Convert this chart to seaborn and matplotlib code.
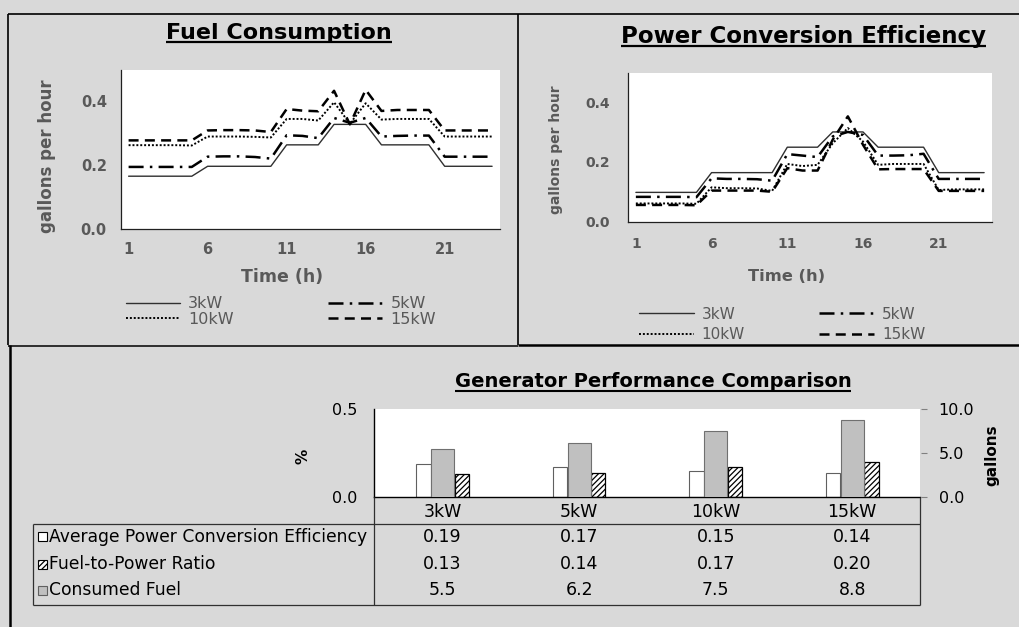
import matplotlib
matplotlib.use("Agg")
import matplotlib.pyplot as plt
import seaborn as sns
import pandas as pd
from matplotlib.lines import Line2D
from matplotlib.patches import Rectangle
from matplotlib.transforms import blended_transform_factory

# ---------------- data ----------------
hours = list(range(1, 25))
series_names = ["3kW", "5kW", "10kW", "15kW"]

fuel_3kW = [0.166, 0.166, 0.166, 0.166, 0.166, 0.197, 0.197, 0.197, 0.197, 0.197,
            0.264, 0.264, 0.264, 0.328, 0.328, 0.328, 0.264, 0.264, 0.264, 0.264,
            0.197, 0.197, 0.197, 0.197]
fuel_5kW = [0.195, 0.195, 0.195, 0.195, 0.195, 0.227, 0.228, 0.228, 0.226, 0.221,
            0.294, 0.292, 0.285, 0.348, 0.333, 0.348, 0.290, 0.292, 0.293, 0.293,
            0.227, 0.227, 0.227, 0.227]
fuel_10kW = [0.263, 0.263, 0.263, 0.263, 0.262, 0.290, 0.290, 0.290, 0.289, 0.287,
             0.345, 0.345, 0.340, 0.397, 0.330, 0.394, 0.343, 0.345, 0.345, 0.345,
             0.290, 0.290, 0.290, 0.290]
fuel_15kW = [0.278, 0.278, 0.278, 0.278, 0.278, 0.309, 0.310, 0.310, 0.309, 0.304,
             0.376, 0.371, 0.369, 0.433, 0.328, 0.436, 0.370, 0.373, 0.373, 0.373,
             0.309, 0.309, 0.309, 0.309]

eff_3kW = [0.098, 0.098, 0.098, 0.098, 0.098, 0.164, 0.164, 0.164, 0.164, 0.164,
           0.249, 0.249, 0.249, 0.300, 0.300, 0.300, 0.249, 0.249, 0.249, 0.249,
           0.164, 0.164, 0.164, 0.164]
eff_5kW = [0.083, 0.083, 0.083, 0.083, 0.082, 0.145, 0.143, 0.143, 0.142, 0.137,
           0.226, 0.221, 0.216, 0.285, 0.300, 0.290, 0.221, 0.221, 0.222, 0.227,
           0.143, 0.143, 0.143, 0.143]
eff_10kW = [0.061, 0.061, 0.061, 0.061, 0.060, 0.115, 0.112, 0.112, 0.111, 0.103,
            0.193, 0.186, 0.190, 0.262, 0.313, 0.268, 0.190, 0.193, 0.193, 0.193,
            0.106, 0.108, 0.108, 0.108]
eff_15kW = [0.056, 0.056, 0.056, 0.056, 0.055, 0.104, 0.104, 0.104, 0.104, 0.100,
            0.179, 0.171, 0.171, 0.274, 0.352, 0.257, 0.175, 0.176, 0.176, 0.176,
            0.103, 0.103, 0.103, 0.103]

hour_ticks = [1, 6, 11, 16, 21]
line_yticks = [0.0, 0.2, 0.4]

generators = ["3kW", "5kW", "10kW", "15kW"]
avg_efficiency = [0.19, 0.17, 0.15, 0.14]
fuel_to_power = [0.13, 0.14, 0.17, 0.20]
consumed_fuel = [5.5, 6.2, 7.5, 8.8]
label_eff = "Average Power Conversion Efficiency"
label_ratio = "Fuel-to-Power Ratio"
label_fuel = "Consumed Fuel"
pct_ticks = [0.0, 0.5]
gal_ticks = [0.0, 5.0, 10.0]

# ---------------- setup ----------------
W, H = 1020, 627
BG = "#d9d9d9"
GREY_TXT = "#595959"
sns.set_theme(style="white")
plt.rcParams["font.family"] = ["DejaVu Sans"]
plt.rcParams["hatch.linewidth"] = 0.9

fig = plt.figure(figsize=(W / 100, H / 100), dpi=100, facecolor=BG)


def fx(x):
    return x / W


def fy(y):
    return 1 - y / H


def axes_px(x0, y0, x1, y1):
    return fig.add_axes([fx(x0), fy(y1), (x1 - x0) / W, (y1 - y0) / H])


def fline(xs, ys, color="black", lw=1.0, z=5):
    fig.add_artist(Line2D([fx(v) for v in xs], [fy(v) for v in ys],
                          transform=fig.transFigure, color=color, lw=lw,
                          zorder=z, solid_capstyle="butt"))


styles = {
    "3kW": dict(color="#303030", linewidth=1.0, linestyle="-"),
    "5kW": dict(color="black", linewidth=1.8, linestyle=(0, (6, 2.5, 1, 2.5))),
    "10kW": dict(color="black", linewidth=1.4, linestyle=(0, (1, 1))),
    "15kW": dict(color="black", linewidth=1.8, linestyle=(0, (4, 2.5))),
}


def line_panel(ax, data, tick_size, tick_pad_x, tick_pad_y):
    ax.set_facecolor("white")
    for name in series_names:
        sns.lineplot(x=hours, y=data[name], ax=ax, errorbar=None, legend=False,
                     **styles[name])
    ax.set_xlim(0.5, 24.5)
    ax.set_ylim(0, 0.498)
    ax.set_xticks(hour_ticks, labels=[str(h) for h in hour_ticks],
                  fontweight="bold", fontsize=tick_size, color=GREY_TXT)
    ax.set_yticks(line_yticks, labels=[f"{v:.1f}" for v in line_yticks],
                  fontweight="bold", fontsize=tick_size, color=GREY_TXT)
    ax.tick_params(axis="x", length=0, pad=tick_pad_x)
    ax.tick_params(axis="y", length=0, pad=tick_pad_y)
    for s in ["top", "right"]:
        ax.spines[s].set_visible(False)
    for s in ["left", "bottom"]:
        ax.spines[s].set_color("#202020")
        ax.spines[s].set_linewidth(0.9)
    ax.grid(False)


def panel_legend(ax, cx, cy, size, colspace, handlelen, lspace):
    h = ax.get_lines()
    order = [0, 2, 1, 3]
    leg = ax.legend([h[i] for i in order], [series_names[i] for i in order],
                    ncol=2, loc="center", bbox_to_anchor=(fx(cx), fy(cy)),
                    bbox_transform=fig.transFigure, frameon=False,
                    fontsize=size, handlelength=handlelen, handletextpad=0.5,
                    columnspacing=colspace, labelspacing=lspace, borderpad=0)
    for t in leg.get_texts():
        t.set_color(GREY_TXT)


def title(text, cx, baseline, size, ul_off, ul_lw):
    t = fig.text(fx(cx), fy(baseline), text, ha="center", va="baseline",
                 fontsize=size, fontweight="bold", color="black")
    bb = t.get_window_extent(renderer=fig.canvas.get_renderer())
    fline([bb.x0, bb.x1], [baseline + ul_off] * 2, lw=ul_lw)


# ---------------- Fuel consumption ----------------
ax1 = axes_px(120.7, 70, 500, 229.3)
fuel = dict(zip(series_names, [fuel_3kW, fuel_5kW, fuel_10kW, fuel_15kW]))
line_panel(ax1, fuel, 10.5, 9, 10)
ax1.set_xlabel("Time (h)", fontsize=12.5, fontweight="bold", color=GREY_TXT, va="center")
ax1.xaxis.set_label_coords(0.425, -0.30)
ax1.set_ylabel("gallons per hour", fontsize=12, fontweight="bold", color=GREY_TXT, va="center")
ax1.yaxis.set_label_coords(-0.194, 0.46)
panel_legend(ax1, 281, 311.5, 11.5, 5.9, 3.4, 0.05)
title("Fuel Consumption", 279.3, 39.3, 16, 2.6, 1.6)

# ---------------- Power conversion efficiency ----------------
ax2 = axes_px(628.3, 72.7, 991.7, 221.7)
eff = dict(zip(series_names, [eff_3kW, eff_5kW, eff_10kW, eff_15kW]))
line_panel(ax2, eff, 10, 11, 13)
ax2.set_xlabel("Time (h)", fontsize=11.7, fontweight="bold", color=GREY_TXT, va="center")
ax2.xaxis.set_label_coords(0.436, -0.369)
ax2.set_ylabel("gallons per hour", fontsize=10, fontweight="bold", color=GREY_TXT, va="center")
ax2.yaxis.set_label_coords(-0.2, 0.48)
panel_legend(ax2, 782, 324.5, 11, 4.9, 3.6, 0.35)
title("Power Conversion Efficiency", 803.3, 42.7, 16.5, 3.5, 1.6)

# ---------------- Generator performance comparison ----------------
ax3 = axes_px(374.3, 409.3, 920.5, 497.3)
ax3.set_facecolor("white")
hue_order = [label_eff, "gap", label_ratio]
pal = {label_eff: "white", "gap": "white", label_ratio: "white"}
df_eff = pd.DataFrame({"generator": generators, "metric": label_eff, "value": avg_efficiency})
df_ratio = pd.DataFrame({"generator": generators, "metric": label_ratio, "value": fuel_to_power})
common = dict(x="generator", y="value", hue="metric", hue_order=hue_order,
              order=generators, palette=pal, width=0.42, gap=0.25, dodge=True,
              saturation=1, errorbar=None, legend=False, ax=ax3)
sns.barplot(data=df_eff, edgecolor="#606060", linewidth=0.8, **common)
sns.barplot(data=df_ratio, edgecolor="black", linewidth=0.9, hatch="//////", **common)

ax3b = ax3.twinx()
sns.barplot(x=generators, y=consumed_fuel, order=generators, color="#c0c0c0",
            saturation=1, width=0.17, edgecolor="#707070", linewidth=0.8,
            errorbar=None, ax=ax3b)

ax3.set_xlim(-0.5, 3.5)
ax3.set_ylim(0, 0.5)
ax3b.set_ylim(0, 10)
ax3.set_xticks(range(len(generators)), labels=generators, fontsize=12.5, color="black")
ax3.tick_params(axis="x", length=0, pad=4)
ax3.set_yticks(pct_ticks, labels=[f"{v:.1f}" for v in pct_ticks], fontsize=11.5, color="black")
ax3.tick_params(axis="y", length=0, pad=12)
ax3b.set_yticks(gal_ticks, labels=[f"{v:.1f}" for v in gal_ticks], fontsize=11.5, color="black")
ax3b.tick_params(axis="y", length=4, width=0.8, color="#808080", direction="out", pad=9, right=True)
ax3.set_xlabel("")
for s in ["top", "right"]:
    ax3.spines[s].set_visible(False)
for s in ["left", "bottom"]:
    ax3.spines[s].set_color("black")
    ax3.spines[s].set_linewidth(1.0)
for s in ax3b.spines.values():
    s.set_visible(False)
ax3.grid(False)
ax3b.grid(False)
ax3.set_ylabel("%", fontsize=11, fontweight="bold", color="black", va="center")
ax3.yaxis.set_label_coords(-0.131, 0.46)
ax3b.set_ylabel("gallons", fontsize=11, fontweight="bold", color="black", va="center")
ax3b.yaxis.set_label_coords(1.131, 0.48)
title("Generator Performance Comparison", 653, 387.3, 14, 4, 1.5)

# data table below the chart
tr = blended_transform_factory(ax3.transData, fig.transFigure)
row_y = [536.7, 564.3, 590]
row_vals = [[f"{v:.2f}" for v in avg_efficiency],
            [f"{v:.2f}" for v in fuel_to_power],
            [f"{v:.1f}" for v in consumed_fuel]]
row_labels = [label_eff, label_ratio, label_fuel]
key_styles = [dict(facecolor="white", edgecolor="black", lw=0.8),
              dict(facecolor="white", edgecolor="black", lw=0.8, hatch="//////"),
              dict(facecolor="#c0c0c0", edgecolor="#606060", lw=0.8)]
for ry, vals, lab, ks in zip(row_y, row_vals, row_labels, key_styles):
    for i, v in enumerate(vals):
        fig.text(i, fy(ry), v, transform=tr, ha="center", va="center",
                 fontsize=12.5, color="black")
    fig.text(fx(49), fy(ry), lab, ha="left", va="center", fontsize=12.3, color="black")
    fig.add_artist(Rectangle((fx(38.5), fy(ry + 4.5)), 9 / W, 9 / H,
                             transform=fig.transFigure, **ks))

TBL = "#303030"
fline([33, 920.5], [524, 524], color=TBL, lw=0.9)
fline([33, 920.5], [605, 605], color=TBL, lw=0.9)
fline([33, 33], [524, 605], color=TBL, lw=0.9)
fline([374.3, 374.3], [497.3, 605], color=TBL, lw=0.9)
fline([920.5, 920.5], [497.3, 605], color=TBL, lw=0.9)

# ---------------- panel frames ----------------
fline([8, 1020], [14, 14], lw=1.2)
fline([8.3, 8.3], [14, 345], lw=1.2)
fline([518.3, 518.3], [14, 345], lw=1.2)
fline([8, 518], [345.5, 345.5], lw=1.1)
fline([518, 1020], [345.3, 345.3], lw=1.8)
fline([10, 10], [345, 627], lw=1.8)

fig.savefig("out.png", dpi=100, facecolor=BG)
